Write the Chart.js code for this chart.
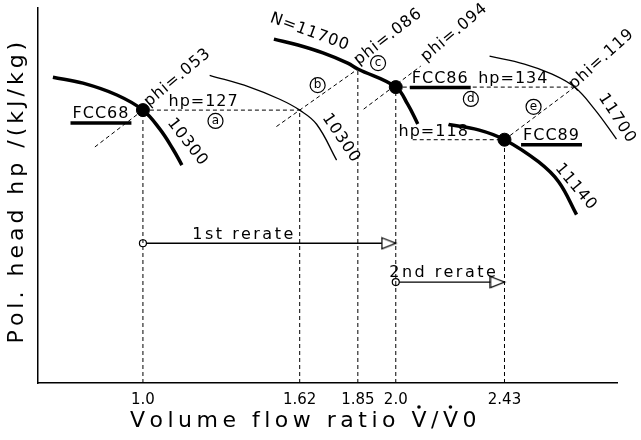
<!DOCTYPE html>
<html>
<head>
<meta charset="utf-8">
<script src="https://cdn.jsdelivr.net/npm/chart.js@4/dist/chart.umd.min.js"></script>
<style>
  body { margin: 0; background: #fff; }
</style>
</head>
<body>
<canvas id="chart" width="641" height="440"></canvas>
<script>
// volume flow ratio ticks
const flowTicks = [1.0, 1.62, 1.85, 2.0, 2.43];
const tickLabels = ['1.0', '1.62', '1.85', '2.0', '2.43'];
const guideTop = [127, 127, 139.5, 134, 118];

// operating points
const pointNames = ['FCC68', 'FCC86', 'FCC89'];
const pointFlow = [1.0, 2.0, 2.43];
const pointHead = [127, 134, 118];

// speed lines
const n10300aFlow = [0.644, 0.763, 0.897, 1.0, 1.067, 1.119, 1.154];
const n10300aHead = [137.0, 135.2, 131.6, 127, 121.2, 115.1, 110.3];
const n10300bFlow = [1.264, 1.422, 1.541, 1.62, 1.687, 1.766];
const n10300bHead = [137.6, 134.0, 130.3, 127, 122.7, 111.8];
const n11700aFlow = [1.518, 1.613, 1.712, 1.81, 1.85, 2.0, 2.047, 2.087];
const n11700aHead = [148.6, 146.8, 144.4, 141.3, 139.5, 134, 128.8, 122.8];
const n11140Flow = [2.209, 2.327, 2.43, 2.564, 2.644, 2.715];
const n11140Head = [122.6, 121.0, 118, 111.3, 105.2, 95.2];
const n11700bFlow = [2.371, 2.509, 2.616, 2.707, 2.786, 2.873];
const n11700bHead = [143.4, 141.0, 138.0, 134, 127.3, 118.2];

// constant flow coefficient lines
const phiFlow = [[0.81, 1.0], [1.528, 1.85], [1.873, 2.099], [2.43, 2.707]];
const phiHead = [[115.8, 127], [122, 139.5], [127.3, 140.4], [118, 134]];

// constant head lines
const hpLevels = [127, 134, 118];
const hpFrom = [1.0, 2.0, 2.067];
const hpTo = [1.62, 2.707, 2.43];

// rerate arrows
const rerateFrom = [1.0, 2.0];
const rerateTo = [2.0, 2.43];
const rerateHead = [86.5, 74.7];

const FONT = 'DejaVu Sans';

const notes = [
    { t: 'FCC68', x: 0.834, y: 125.8, under: true },
    { t: 'FCC86', x: 2.176, y: 136.6, under: true },
    { t: 'FCC89', x: 2.616, y: 119.2, under: true },
    { t: 'hp=127', x: 1.24, y: 129.4 },
    { t: 'hp=134', x: 2.465, y: 136.4 },
    { t: 'hp=118', x: 2.15, y: 120.4 },
    { t: 'phi=.053', x: 1.137, y: 136.9, r: -40 },
    { t: 'phi=.086', x: 1.97, y: 149.3, r: -38 },
    { t: 'phi=.094', x: 2.232, y: 150.6, r: -40 },
    { t: 'phi=.119', x: 2.814, y: 142.5, r: -42 },
    { t: 'N=11700', x: 1.660, y: 150.7, r: 20 },
    { t: '10300', x: 1.176, y: 117.2, r: 52 },
    { t: '10300', x: 1.784, y: 118.4, r: 56 },
    { t: '11700', x: 2.875, y: 124.5, r: 57 },
    { t: '11140', x: 2.712, y: 103.6, r: 50 },
    { t: '1st rerate', x: 1.4, y: 89.2, sp: 2.5 },
    { t: '2nd rerate', x: 2.19, y: 77.4, sp: 2.5 }
];
const circled = [
    { t: 'a', x: 1.287, y: 123.7 },
    { t: 'b', x: 1.691, y: 134.6 },
    { t: 'c', x: 1.93, y: 141.3 },
    { t: 'd', x: 2.297, y: 130.4 },
    { t: 'e', x: 2.545, y: 128.0 }
];

const pts = (xs, ys) => xs.map((x, i) => ({ x: x, y: ys[i] }));

function dashed(data) {
    return { data: data, showLine: true, borderColor: '#000', borderWidth: 1, borderDash: [4, 3], pointRadius: 0, tension: 0 };
}
function curve(data, width) {
    return { data: data, showLine: true, borderColor: '#000', borderWidth: width, pointRadius: 0,
        tension: 0.4, clip: false };
}

function arrowHead() {
    let c = document.createElement('canvas');
    c.width = 30; c.height = 14;
    let g = c.getContext('2d');
    g.fillStyle = '#fff'; g.strokeStyle = '#000'; g.lineWidth = 1.3;
    g.beginPath(); g.moveTo(1, 1.5); g.lineTo(15, 7); g.lineTo(1, 12.5); g.closePath();
    g.fill(); g.stroke();
    return c;
}
const arrowImg = arrowHead();

let datasets = [];
flowTicks.forEach((v, i) => datasets.push(dashed(pts([v, v], [44, guideTop[i]]))));
hpLevels.forEach((h, i) => datasets.push(dashed(pts([hpFrom[i], hpTo[i]], [h, h]))));
phiFlow.forEach((xs, i) => datasets.push(dashed(pts(xs, phiHead[i]))));

datasets.push(curve(pts(n10300aFlow, n10300aHead), 3.5));
datasets.push(curve(pts(n10300bFlow, n10300bHead), 1.3));
datasets.push(curve(pts(n11700aFlow, n11700aHead), 3.5));
datasets.push(curve(pts(n11140Flow, n11140Head), 3.5));
datasets.push(curve(pts(n11700bFlow, n11700bHead), 1.3));

rerateFrom.forEach((x0, i) => datasets.push({
    data: pts([x0, rerateTo[i]], [rerateHead[i], rerateHead[i]]),
    showLine: true, borderColor: '#000', borderWidth: 1.3,
    pointStyle: ['circle', arrowImg], pointRadius: [3.5, 7],
    pointBackgroundColor: '#fff', pointBorderColor: '#000', pointBorderWidth: 1.2
}));

datasets.push({
    data: pts(pointFlow, pointHead),
    showLine: false, pointRadius: 6.5, pointBackgroundColor: '#000', pointBorderColor: '#000'
});

// draws text one char at a time, centred on (0,0), returns char centres
function spacedText(ctx, text, gap) {
    ctx.letterSpacing = '0px';
    ctx.textAlign = 'left';
    let widths = [...text].map(ch => ctx.measureText(ch).width);
    let total = widths.reduce((a, b) => a + b, 0) + gap * (text.length - 1);
    let x = -total / 2;
    let centres = [];
    [...text].forEach((ch, i) => {
        ctx.fillText(ch, x, 0);
        centres.push(x + widths[i] / 2);
        x += widths[i] + gap;
    });
    ctx.textAlign = 'center';
    return centres;
}

const notesPlugin = {
    id: 'notes',
    afterDatasetsDraw(chart) {
        const ctx = chart.ctx;
        const xs = chart.scales.x, ys = chart.scales.y;
        ctx.save();
        ctx.fillStyle = '#000';
        ctx.strokeStyle = '#000';
        ctx.textAlign = 'center';
        ctx.textBaseline = 'middle';

        notes.forEach(n => {
            ctx.save();
            ctx.translate(xs.getPixelForValue(n.x), ys.getPixelForValue(n.y));
            ctx.rotate((n.r || 0) * Math.PI / 180);
            ctx.font = '16px "' + FONT + '"';
            ctx.letterSpacing = (n.sp || 1) + 'px';
            ctx.fillText(n.t, 0, 0);
            if (n.under) {
                let w = ctx.measureText(n.t).width;
                ctx.lineWidth = 3.5;
                ctx.beginPath();
                ctx.moveTo(-w / 2 - 2, 9);
                ctx.lineTo(w / 2 + 2, 9);
                ctx.stroke();
            }
            ctx.restore();
        });

        circled.forEach(c => {
            let px = xs.getPixelForValue(c.x), py = ys.getPixelForValue(c.y);
            ctx.lineWidth = 1.2;
            ctx.beginPath();
            ctx.arc(px, py, 7.5, 0, Math.PI * 2);
            ctx.stroke();
            ctx.font = '12px "' + FONT + '"';
            ctx.letterSpacing = '0px';
            ctx.fillText(c.t, px, py);
        });

        // axis titles
        const area = chart.chartArea;
        ctx.font = '22px "' + FONT + '"';
        const xTitle = 'Volume flow ratio V/V0';
        ctx.save();
        ctx.translate(area.left + 0.458 * (area.right - area.left), 421);
        let cs = spacedText(ctx, xTitle, 4.5);
        // dots over the two V
        [xTitle.indexOf('V', 1), xTitle.lastIndexOf('V')].forEach(k => {
            ctx.beginPath();
            ctx.arc(cs[k], -14, 1.8, 0, Math.PI * 2);
            ctx.fill();
        });
        ctx.restore();

        ctx.save();
        ctx.translate(17, (area.top + area.bottom) / 2 - 3);
        ctx.rotate(-Math.PI / 2);
        spacedText(ctx, 'Pol. head hp /(kJ/kg)', 4);
        ctx.restore();

        ctx.restore();
    }
};

new Chart(document.getElementById('chart'), {
    type: 'scatter',
    data: { datasets: datasets },
    options: {
        responsive: false,
        animation: false,
        layout: { padding: { top: 8, right: 24, left: 0, bottom: 0 } },
        plugins: {
            legend: { display: false },
            tooltip: { enabled: false }
        },
        scales: {
            x: {
                type: 'linear', min: 0.585, max: 2.875,
                grid: { display: false, drawTicks: false },
                border: { display: true, color: '#000', width: 1.5 },
                afterBuildTicks: s => { s.ticks = flowTicks.map(v => ({ value: v })); },
                afterFit: s => { s.height = 57; },
                ticks: {
                    color: '#000', padding: 8, autoSkip: false, maxRotation: 0,
                    font: { family: FONT, size: 15 },
                    callback: (v, i) => tickLabels[i]
                }
            },
            y: {
                min: 44, max: 158,
                ticks: { display: false },
                grid: { display: false, drawTicks: false },
                border: { display: true, color: '#000', width: 1.5 },
                afterFit: s => { s.width = 38; }
            }
        }
    },
    plugins: [notesPlugin]
});
</script>
</body>
</html>
